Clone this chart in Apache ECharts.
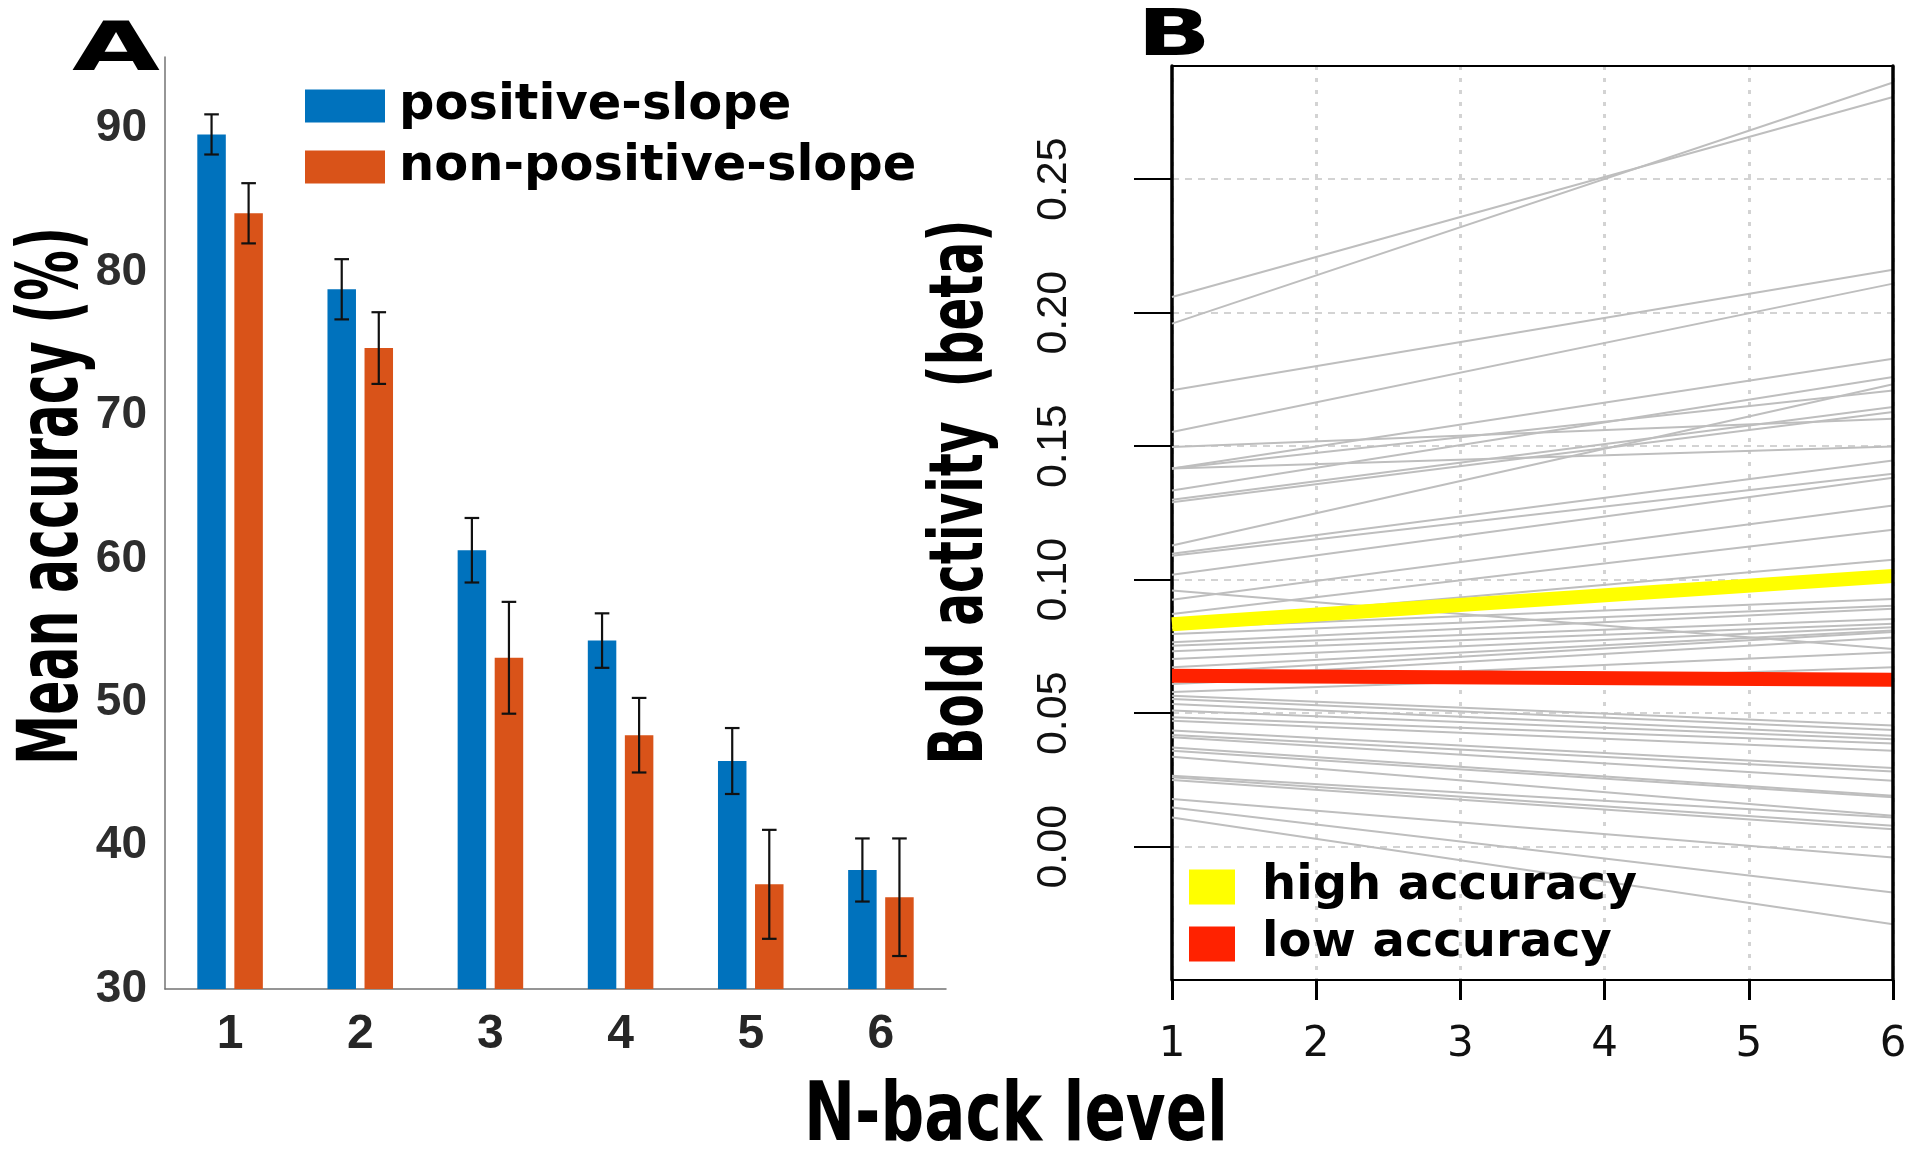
<!DOCTYPE html>
<html>
<head>
<meta charset="utf-8">
<script src="https://cdn.jsdelivr.net/npm/echarts@6/dist/echarts.min.js"></script>
<style>
html,body{margin:0;padding:0;background:#fff;}
#chart{width:1920px;height:1149px;}
</style>
</head>
<body>
<div id="chart"></div>
<script>
// ---------- Panel A data ----------
const nbackLevels = ['1', '2', '3', '4', '5', '6'];
const positiveSlope = [89.6, 78.8, 60.6, 54.3, 45.9, 38.3];
const positiveSlopeErr = [1.4, 2.1, 2.25, 1.9, 2.3, 2.2];
const nonPositiveSlope = [84.1, 74.7, 53.1, 47.7, 37.3, 36.4];
const nonPositiveSlopeErr = [2.1, 2.5, 3.9, 2.6, 3.8, 4.1];
const accuracyTicks = [30, 40, 50, 60, 70, 80, 90];

// ---------- Panel B data ----------
const levelTicks = [1, 2, 3, 4, 5, 6];
const betaTicks = [0, 0.05, 0.10, 0.15, 0.20, 0.25];
// per-subject fitted beta at N-back level 1 and level 6
const subjectBetaAt1 = [0.2059,0.1959,0.171,0.1553,0.1497,0.1417,0.1417,0.1417,0.1334,0.130,0.129,0.1128,0.1097,0.109,0.1019,0.096,0.0925,0.0872,0.084,0.082,0.0797,0.0766,0.0753,0.0732,0.0703,0.0672,0.065,0.063,0.061,0.058,0.0566,0.0553,0.0535,0.051,0.0485,0.0472,0.0435,0.0419,0.041,0.0372,0.036,0.0337,0.0266,0.026,0.025,0.0179,0.0147,0.011];
const subjectBetaAt6 = [0.2808,0.2862,0.2161,0.2109,0.1603,0.1828,0.1709,0.1499,0.1759,0.1647,0.1628,0.1732,0.1447,0.1397,0.1382,0.0741,0.1278,0.1187,0.1075,0.0928,0.0903,0.0891,0.0853,0.0835,0.0822,0.081,0.0804,0.0784,0.0728,0.0672,0.0454,0.0437,0.0416,0.0403,0.0387,0.036,0.0295,0.0282,0.0247,0.0191,0.0185,0.0116,0.011,0.0079,0.0066,-0.004,-0.0171,-0.029];
const highAccuracyBeta = [0.0833, 0.1014]; // level 1, level 6
const lowAccuracyBeta = [0.0640, 0.0625];  // level 1, level 6

// ---------- style constants ----------
const BAR_W = 28.5, BAR_GAP = 0.3, CAP = 7.3;
const BLUE = '#0072bd', ORANGE = '#d95319';

function errorBarRenderer(side) {
  return function (params, api) {
    const cat = api.value(0);
    const x = api.coord([cat, api.value(1)])[0] + side * BAR_W * (1 + BAR_GAP) / 2;
    const yLo = api.coord([cat, api.value(1)])[1];
    const yHi = api.coord([cat, api.value(2)])[1];
    const style = { stroke: '#111', lineWidth: 2.2 };
    return {
      type: 'group',
      children: [
        { type: 'line', shape: { x1: x, y1: yHi, x2: x, y2: yLo }, style: style },
        { type: 'line', shape: { x1: x - CAP, y1: yHi, x2: x + CAP, y2: yHi }, style: style },
        { type: 'line', shape: { x1: x - CAP, y1: yLo, x2: x + CAP, y2: yLo }, style: style }
      ]
    };
  };
}

const mctx = document.createElement('canvas').getContext('2d');
function fittedText(text, font, cx, cy, len, rot) {
  mctx.font = font;
  const s = len / mctx.measureText(text).width;
  return {
    type: 'text', x: cx, y: cy, rotation: rot || 0, scaleX: s, scaleY: 1, silent: true,
    style: { text: text, font: font, fill: '#000', align: 'center', verticalAlign: 'middle',
             textAlign: 'center', textVerticalAlign: 'middle' }
  };
}

const greySeries = subjectBetaAt1.map(function (b1, i) {
  return {
    type: 'line', name: 'subject ' + (i + 1), xAxisIndex: 1, yAxisIndex: 1,
    data: [[levelTicks[0], b1], [levelTicks[levelTicks.length - 1], subjectBetaAt6[i]]],
    symbol: 'none', showSymbol: false, silent: true, z: 2,
    lineStyle: { color: '#bebebe', width: 2 }
  };
});

const option = {
  animation: false,
  backgroundColor: '#ffffff',
  grid: [
    { left: 165, top: 57, width: 781, height: 932 },
    { left: 1172, top: 66, width: 721, height: 914 }
  ],
  legend: [
    {
      data: ['positive-slope', 'non-positive-slope'], orient: 'vertical', left: 305, top: 81,
      padding: 0, itemWidth: 80, itemHeight: 33, itemGap: 11, icon: 'rect', selectedMode: false,
      itemStyle: { borderWidth: 0 },
      textStyle: { fontFamily: 'DejaVu Sans', fontWeight: 'bold', fontSize: 49.5, color: '#000',
                   lineHeight: 33, padding: [0, 0, 0, 9] }
    },
    {
      data: ['high accuracy', 'low accuracy'], orient: 'vertical', left: 1189, top: 863,
      padding: 0, itemWidth: 46, itemHeight: 35, itemGap: 9, icon: 'rect', selectedMode: false,
      itemStyle: { borderWidth: 0 },
      textStyle: { fontFamily: 'DejaVu Sans', fontWeight: 'bold', fontSize: 48, color: '#000',
                   lineHeight: 35, padding: [0, 0, 0, 22] }
    }
  ],
  xAxis: [
    {
      type: 'category', gridIndex: 0, data: nbackLevels, boundaryGap: true,
      axisLine: { show: true, onZero: false, lineStyle: { color: '#737373', width: 1.5 } },
      axisTick: { show: false },
      axisLabel: { margin: 22, fontFamily: 'Liberation Sans', fontWeight: 'bold', fontSize: 48, color: '#262626' },
      splitLine: { show: false }
    },
    {
      type: 'value', gridIndex: 1, min: 1, max: 6, interval: 1,
      axisLine: { show: true, onZero: false, lineStyle: { color: '#000', width: 2 } },
      axisTick: { show: true, length: 20, lineStyle: { color: '#000', width: 3 } },
      axisLabel: { margin: 44, fontFamily: 'DejaVu Sans', fontSize: 42, color: '#111',
                   formatter: function (v) { return String(v); } },
      splitLine: { show: true, lineStyle: { color: '#d3d3d3', width: 3, type: [4, 8] } }
    },
    {
      type: 'value', gridIndex: 1, position: 'top', min: 1, max: 6, interval: 1, z: 10,
      axisLine: { show: true, onZero: false, lineStyle: { color: '#000', width: 2 } },
      axisTick: { show: false }, axisLabel: { show: false }, splitLine: { show: false }
    }
  ],
  yAxis: [
    {
      type: 'value', gridIndex: 0, min: accuracyTicks[0], max: 95, interval: 10,
      axisLine: { show: true, onZero: false, lineStyle: { color: '#737373', width: 1.5 } },
      axisTick: { show: false }, splitLine: { show: false },
      axisLabel: { margin: 18, fontFamily: 'Liberation Sans', fontWeight: 'bold', fontSize: 46,
                   color: '#2d2d2d', showMaxLabel: false }
    },
    {
      type: 'value', gridIndex: 1, min: -0.0499, max: 0.2924,
      axisLine: { show: true, onZero: false, lineStyle: { color: '#000', width: 3.5 } },
      axisTick: { show: true, customValues: betaTicks, length: 38, lineStyle: { color: '#000', width: 2 } },
      axisLabel: { customValues: betaTicks, rotate: 90, margin: 96, fontFamily: 'Liberation Sans',
                   fontSize: 43, color: '#111', formatter: function (v) { return v.toFixed(2); } },
      splitLine: { show: true, lineStyle: { color: '#d3d3d3', width: 2, type: [7, 6] } }
    },
    {
      type: 'value', gridIndex: 1, position: 'right', min: -0.0499, max: 0.2924, z: 10,
      axisLine: { show: true, onZero: false, lineStyle: { color: '#000', width: 3.5 } },
      axisTick: { show: false }, axisLabel: { show: false }, splitLine: { show: false }
    }
  ],
  series: [
    {
      type: 'bar', name: 'positive-slope', xAxisIndex: 0, yAxisIndex: 0, data: positiveSlope,
      barWidth: BAR_W, barGap: (BAR_GAP * 100) + '%', itemStyle: { color: BLUE }, silent: true
    },
    {
      type: 'bar', name: 'non-positive-slope', xAxisIndex: 0, yAxisIndex: 0, data: nonPositiveSlope,
      barWidth: BAR_W, barGap: (BAR_GAP * 100) + '%', itemStyle: { color: ORANGE }, silent: true
    },
    {
      type: 'custom', name: 'err-pos', xAxisIndex: 0, yAxisIndex: 0, z: 5, silent: true,
      renderItem: errorBarRenderer(-1), encode: { x: 0, y: [1, 2] },
      data: positiveSlope.map(function (v, i) { return [i, v - positiveSlopeErr[i], v + positiveSlopeErr[i]]; })
    },
    {
      type: 'custom', name: 'err-nonpos', xAxisIndex: 0, yAxisIndex: 0, z: 5, silent: true,
      renderItem: errorBarRenderer(1), encode: { x: 0, y: [1, 2] },
      data: nonPositiveSlope.map(function (v, i) { return [i, v - nonPositiveSlopeErr[i], v + nonPositiveSlopeErr[i]]; })
    }
  ].concat(greySeries).concat([
    {
      type: 'line', name: 'high accuracy', xAxisIndex: 1, yAxisIndex: 1, z: 6, silent: true,
      color: '#ffff00', symbol: 'none', showSymbol: false,
      data: [[levelTicks[0], highAccuracyBeta[0]], [levelTicks[5], highAccuracyBeta[1]]],
      itemStyle: { color: '#ffff00' }, lineStyle: { color: '#ffff00', width: 14 }
    },
    {
      type: 'line', name: 'low accuracy', xAxisIndex: 1, yAxisIndex: 1, z: 6, silent: true,
      color: '#ff2200', symbol: 'none', showSymbol: false,
      data: [[levelTicks[0], lowAccuracyBeta[0]], [levelTicks[5], lowAccuracyBeta[1]]],
      itemStyle: { color: '#ff2200' }, lineStyle: { color: '#ff2200', width: 14 }
    }
  ]),
  graphic: [
    fittedText('A', 'bold 68px "DejaVu Sans"', 116, 52, 88, 0),
    fittedText('B', 'bold 64px "DejaVu Sans"', 1174, 38, 74, 0),
    fittedText('Mean accuracy (%)', 'bold 84px "DejaVu Sans"', 55, 496, 538, Math.PI / 2),
    fittedText('Bold activity  (beta)', 'bold 74px "DejaVu Sans"', 963, 492, 545, Math.PI / 2),
    fittedText('N-back level', 'bold 82px "DejaVu Sans"', 1016, 1119, 424, 0)
  ]
};

const chart = echarts.init(document.getElementById('chart'), null, { renderer: 'canvas' });
chart.setOption(option);
</script>
</body>
</html>
